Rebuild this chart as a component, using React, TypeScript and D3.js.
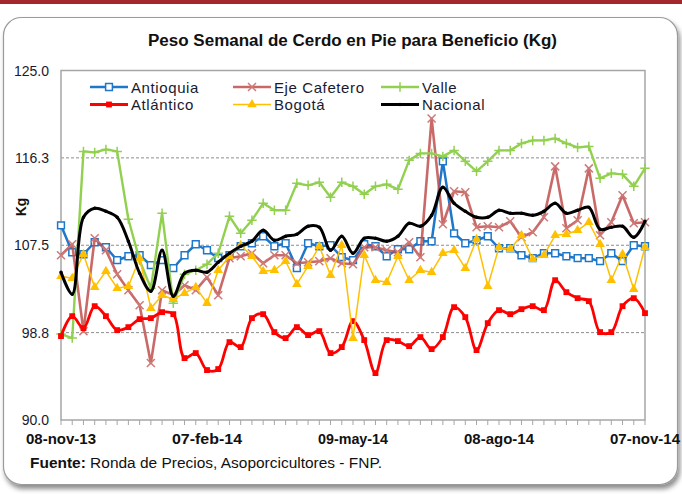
import React from 'react';
import * as d3 from 'd3';

const tickWeeks = [0, 13, 26, 39, 52];
const tickLabels = ['08-nov-13', '07-feb-14', '09-may-14', '08-ago-14', '07-nov-14'];
const yTicks = [90, 98.75, 107.5, 116.25, 125];

const antioquia = [109.5, 106.8, 106.6, 107.8, 107.3, 106.0, 106.4, 106.5, 105.5, 106.0, 105.2, 106.5, 107.6, 107.0, 106.2, 106.5, 107.4, 107.7, 108.4, 107.4, 107.7, 105.2, 107.7, 107.4, 107.5, 106.3, 106.0, 107.6, 107.4, 106.4, 107.1, 107.1, 107.9, 107.9, 115.9, 108.7, 107.7, 108.0, 108.4, 107.2, 107.2, 106.5, 106.2, 106.7, 106.7, 106.4, 106.2, 106.2, 105.9, 106.7, 105.9, 107.5, 107.4];
const atlantico = [98.4, 100.4, 99.2, 101.4, 100.4, 99.0, 99.3, 100.1, 100.2, 100.8, 100.6, 96.2, 96.7, 95.0, 95.1, 97.8, 97.3, 100.2, 100.6, 98.8, 98.2, 99.3, 98.5, 98.9, 96.7, 97.3, 99.9, 98.0, 94.7, 98.0, 97.9, 97.4, 98.3, 97.1, 98.3, 101.3, 100.3, 97.0, 99.7, 101.0, 100.6, 101.1, 101.4, 101.0, 104.0, 102.8, 102.2, 101.9, 98.8, 98.8, 101.4, 102.2, 100.7];
const ejeCafetero = [106.5, 107.6, 98.9, 108.2, 107.0, 104.6, 103.0, 101.5, 95.7, 103.0, 102.5, 103.5, 103.0, 104.3, 102.5, 106.2, 106.4, 106.7, 105.7, 106.5, 106.5, 105.7, 105.8, 105.9, 106.2, 105.7, 105.6, 107.3, 107.3, 107.0, 106.8, 107.8, 106.3, 120.2, 109.6, 112.9, 112.8, 109.3, 109.4, 109.3, 109.9, 108.3, 108.8, 110.3, 115.4, 109.2, 110.0, 115.2, 108.5, 109.8, 112.5, 109.7, 109.8];
const valle = [98.6, 98.2, 116.9, 116.8, 117.1, 116.9, 110.1, 106.0, 103.2, 110.7, 101.7, 104.6, 105.0, 105.6, 106.7, 110.4, 108.7, 110.0, 111.7, 111.0, 111.0, 113.7, 113.5, 113.8, 112.3, 113.8, 113.4, 112.6, 113.4, 113.6, 113.1, 116.0, 116.7, 116.7, 116.4, 117.0, 115.9, 114.9, 115.9, 117.0, 117.0, 117.7, 118.0, 118.0, 118.2, 117.7, 117.3, 117.4, 114.2, 114.7, 114.6, 113.4, 115.2];
const bogota = [104.4, 104.2, 106.6, 103.3, 104.9, 103.2, 103.4, 106.2, 101.2, 102.5, 102.1, 102.7, 103.3, 101.7, 105.0, 106.4, 107.5, 106.4, 104.9, 105.0, 105.9, 103.6, 105.4, 107.4, 104.5, 107.5, 98.2, 106.5, 104.0, 103.8, 106.4, 104.0, 105.0, 104.8, 106.7, 107.0, 105.2, 108.1, 103.4, 107.3, 107.1, 108.5, 106.1, 106.5, 108.5, 108.6, 109.0, 109.8, 107.6, 104.0, 106.6, 103.1, 107.3];
const nacional = [104.8, 102.6, 110.3, 111.2, 110.9, 110.3, 107.9, 104.7, 102.9, 107.0, 102.4, 104.7, 105.0, 104.8, 105.8, 106.7, 107.4, 107.9, 109.0, 108.0, 108.4, 108.6, 109.4, 109.3, 107.0, 108.4, 106.7, 108.2, 108.2, 107.9, 108.4, 109.7, 109.4, 110.5, 113.3, 111.7, 110.9, 110.3, 110.3, 111.0, 110.7, 110.7, 110.5, 110.9, 111.7, 110.7, 111.0, 111.3, 109.1, 109.3, 109.4, 108.3, 109.9];

const W = 682, H = 494;
const FONT = '"Liberation Sans", Arial, sans-serif';

// stroke-only symbols (plus / times)
const plusSym = { draw(ctx: any, size: number) { const r = Math.sqrt(size) / 2; ctx.moveTo(-r, 0); ctx.lineTo(r, 0); ctx.moveTo(0, -r); ctx.lineTo(0, r); } };
const timesSym = { draw(ctx: any, size: number) { const r = Math.sqrt(size) / 2; ctx.moveTo(-r, -r); ctx.lineTo(r, r); ctx.moveTo(-r, r); ctx.lineTo(r, -r); } };

const series = [
  { name: 'Antioquia', data: antioquia, color: '#1f77c9', width: 2.5, sym: d3.symbolSquare, size: 46, fill: '#fff', mstroke: '#1f77c9', smooth: false, col: 0, row: 0, op: 1 },
  { name: 'Eje Cafetero', data: ejeCafetero, color: '#c0504d', width: 2.6, sym: timesSym, size: 64, fill: 'none', mstroke: '#cd7a78', smooth: false, col: 1, row: 0, op: 0.85 },
  { name: 'Valle', data: valle, color: '#92d050', width: 2.4, sym: plusSym, size: 90, fill: 'none', mstroke: '#92d050', smooth: false, col: 2, row: 0, op: 1 },
  { name: 'Atlántico', data: atlantico, color: '#ff0000', width: 2.8, sym: d3.symbolSquare, size: 34, fill: '#ff0000', mstroke: 'none', smooth: true, col: 0, row: 1, op: 1 },
  { name: 'Bogotá', data: bogota, color: '#ffc000', width: 1.5, sym: d3.symbolTriangle, size: 40, fill: '#ffc000', mstroke: 'none', smooth: false, col: 1, row: 1, op: 1 },
  { name: 'Nacional', data: nacional, color: '#000000', width: 3, sym: d3.symbolCircle, size: 10, fill: '#000', mstroke: 'none', smooth: true, col: 2, row: 1, op: 1 },
];

const legendCols = [90, 233, 381];
const legendRows = [87, 104.5];

const App = () => {
  const left = 61, right = 645, top = 70.5, bottom = 420;
  const x = d3.scalePoint<number>().domain(d3.range(antioquia.length)).range([left, right]);
  const y = d3.scaleLinear().domain([90, 125]).range([bottom, top]);
  const fmt = d3.format('.1f');

  return (
    <div style={{ position: 'absolute', left: 0, top: 0 }}>
      <svg width={W} height={H} style={{ display: 'block', fontFamily: FONT }}>
        <defs>
          <filter id="shadow" x="-5%" y="-5%" width="110%" height="112%">
            <feDropShadow dx="2" dy="4" stdDeviation="2.5" floodColor="#000" floodOpacity="0.45" />
          </filter>
        </defs>
        <rect x={0} y={0} width={W} height={H} fill="#fff" />
        <rect x={0} y={0} width={W} height={4} fill="#a3282c" />
        <rect x={3.5} y={17.5} width={674} height={467} rx={18} fill="#fff" stroke="#9a9a9a" strokeWidth={1.2} filter="url(#shadow)" />

        <text x={352.5} y={46} textAnchor="middle" fontSize={16} fontWeight="bold" fill="#111" textLength={409} lengthAdjust="spacingAndGlyphs">Peso Semanal de Cerdo en Pie para Beneficio (Kg)</text>

        {/* gridlines */}
        {yTicks.slice(1, -1).map(t => (
          <line key={t} x1={left} x2={right} y1={y(t)} y2={y(t)} stroke="#8c8c8c" strokeWidth={1} strokeDasharray="3,2" />
        ))}
        <rect x={left} y={top} width={right - left} height={bottom - top} fill="none" stroke="#a6a6a6" strokeWidth={1.5} />
        {x.domain().map(i => (
          <line key={i} x1={x(i)} x2={x(i)} y1={bottom} y2={bottom + 5} stroke="#a6a6a6" strokeWidth={1} />
        ))}
        {yTicks.map(t => (
          <text key={t} x={49} y={y(t) + 5} textAnchor="end" fontSize={14} fill="#1a1a2e">{fmt(t)}</text>
        ))}
        <text transform="translate(26,207) rotate(-90)" textAnchor="middle" fontSize={14} fontWeight="bold" fill="#111">Kg</text>
        {tickWeeks.map((w, k) => (
          <text key={w} x={x(w)} y={444} textAnchor="middle" fontSize={14} fontWeight="bold" fill="#111" textLength={70} lengthAdjust="spacingAndGlyphs">{tickLabels[k]}</text>
        ))}
        <text x={30} y={468} fontSize={14} fill="#111" textLength={352} lengthAdjust="spacingAndGlyphs">
          <tspan fontWeight="bold">Fuente:</tspan> Ronda de Precios, Asoporcicultores - FNP.
        </text>

        {/* series */}
        {series.map(s => {
          const line = d3.line<number>().x((d, i) => x(i) as number).y(d => y(d));
          if (s.smooth) line.curve(d3.curveCatmullRom.alpha(0.5));
          const sym = d3.symbol().type(s.sym as any).size(s.size);
          return (
            <g key={s.name}>
              <path d={line(s.data) || ''} fill="none" stroke={s.color} strokeWidth={s.width} strokeLinejoin="round" opacity={s.op} />
              {s.data.map((d, i) => (
                <path key={i} d={sym() || ''} transform={`translate(${x(i)},${y(d)})`} fill={s.fill} stroke={s.mstroke} strokeWidth={1.5} />
              ))}
            </g>
          );
        })}

        {/* legend */}
        {series.map(s => {
          const lx = legendCols[s.col], ly = legendRows[s.row];
          const sym = d3.symbol().type(s.sym as any).size(s.size);
          return (
            <g key={'lg' + s.name}>
              <line x1={lx} x2={lx + 38} y1={ly} y2={ly} stroke={s.color} strokeWidth={s.width} opacity={s.op} />
              <path d={sym() || ''} transform={`translate(${lx + 19},${ly})`} fill={s.fill} stroke={s.mstroke} strokeWidth={1.5} />
              <text x={lx + 41} y={ly + 5.5} fontSize={15} fill="#1a1a2e" letterSpacing={0.6}>{s.name}</text>
            </g>
          );
        })}
      </svg>
    </div>
  );
};

export default App;
